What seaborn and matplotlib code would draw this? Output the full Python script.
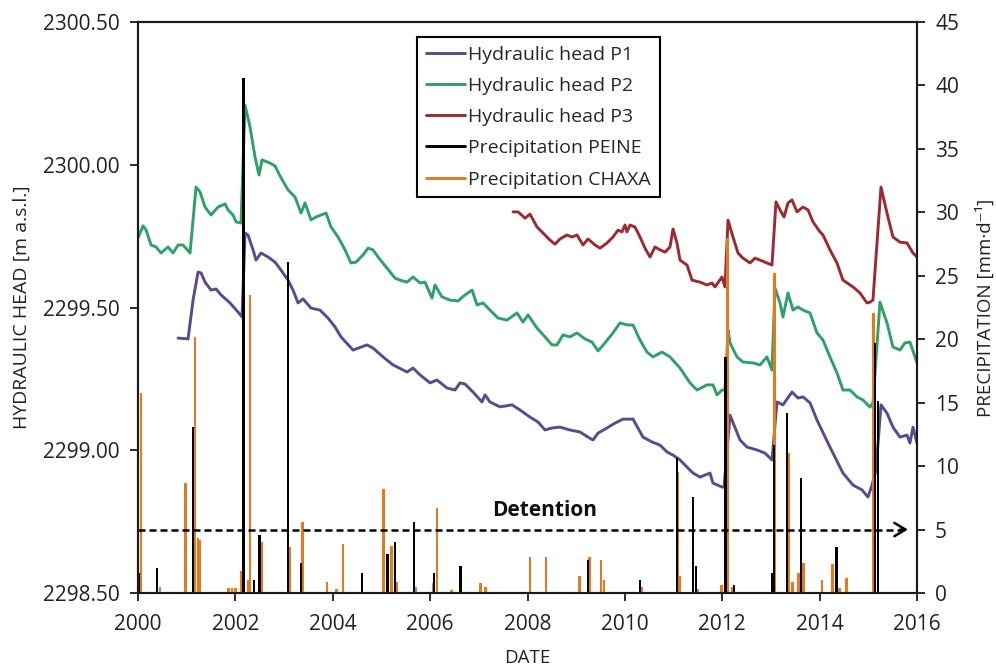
import numpy as np
import pandas as pd
import matplotlib
matplotlib.use("Agg")
import matplotlib.pyplot as plt
import seaborn as sns
from matplotlib.lines import Line2D
from matplotlib.ticker import FormatStrFormatter

# ---------------- data ----------------
p1_year = [2000.822, 2001.027, 2001.130, 2001.232, 2001.294, 2001.376, 2001.499, 2001.602, 2001.705,
           2001.890, 2002.054, 2002.136, 2002.198, 2002.259, 2002.362, 2002.423, 2002.526, 2002.670,
           2002.814, 2002.937, 2003.081, 2003.183, 2003.286, 2003.389, 2003.553, 2003.738, 2003.902,
           2004.046, 2004.169, 2004.416, 2004.703, 2004.826, 2005.032, 2005.237, 2005.525, 2005.648,
           2005.792, 2005.997, 2006.141, 2006.346, 2006.511, 2006.613, 2006.716, 2006.880, 2007.065,
           2007.127, 2007.229, 2007.435, 2007.681, 2007.846, 2008.051, 2008.215, 2008.359, 2008.503,
           2008.667, 2008.872, 2009.078, 2009.242, 2009.345, 2009.447, 2009.632, 2009.797, 2009.961,
           2010.166, 2010.372, 2010.557, 2010.721, 2010.865, 2010.988, 2011.132, 2011.275, 2011.399,
           2011.542, 2011.645, 2011.748, 2011.809, 2011.994, 2012.036, 2012.159, 2012.364, 2012.508,
           2012.713, 2012.877, 2013.021, 2013.124, 2013.247, 2013.432, 2013.555, 2013.658, 2013.802,
           2013.945, 2014.212, 2014.479, 2014.685, 2014.870, 2014.993, 2015.075, 2015.157, 2015.260,
           2015.383, 2015.506, 2015.650, 2015.794, 2015.855, 2015.917, 2016.000]
p1_head = [2299.393, 2299.390, 2299.526, 2299.624, 2299.621, 2299.589, 2299.561, 2299.565, 2299.544,
           2299.516, 2299.484, 2299.467, 2299.761, 2299.754, 2299.702, 2299.666, 2299.691, 2299.677,
           2299.659, 2299.631, 2299.596, 2299.561, 2299.516, 2299.530, 2299.498, 2299.491, 2299.463,
           2299.432, 2299.397, 2299.351, 2299.369, 2299.358, 2299.327, 2299.299, 2299.274, 2299.288,
           2299.264, 2299.236, 2299.246, 2299.218, 2299.211, 2299.236, 2299.232, 2299.204, 2299.169,
           2299.194, 2299.169, 2299.152, 2299.159, 2299.141, 2299.116, 2299.099, 2299.071, 2299.078,
           2299.081, 2299.071, 2299.064, 2299.046, 2299.036, 2299.060, 2299.078, 2299.095, 2299.109,
           2299.109, 2299.046, 2299.029, 2299.018, 2298.994, 2298.983, 2298.966, 2298.941, 2298.920,
           2298.906, 2298.913, 2298.920, 2298.885, 2298.871, 2298.871, 2299.123, 2299.036, 2299.011,
           2299.001, 2298.990, 2298.966, 2299.169, 2299.159, 2299.204, 2299.183, 2299.187, 2299.166,
           2299.106, 2299.011, 2298.920, 2298.878, 2298.861, 2298.836, 2298.878, 2298.931, 2299.159,
           2299.130, 2299.081, 2299.046, 2299.053, 2299.025, 2299.081, 2299.025]

p2_year = [2000.000, 2000.103, 2000.164, 2000.267, 2000.370, 2000.472, 2000.616, 2000.719, 2000.822,
           2000.924, 2001.068, 2001.191, 2001.273, 2001.376, 2001.499, 2001.643, 2001.787, 2001.848,
           2001.951, 2002.013, 2002.115, 2002.198, 2002.300, 2002.403, 2002.485, 2002.547, 2002.711,
           2002.814, 2002.937, 2003.081, 2003.224, 2003.348, 2003.430, 2003.553, 2003.656, 2003.861,
           2003.964, 2004.108, 2004.251, 2004.374, 2004.477, 2004.621, 2004.724, 2004.826, 2004.929,
           2005.093, 2005.278, 2005.381, 2005.525, 2005.648, 2005.792, 2005.894, 2006.038, 2006.100,
           2006.243, 2006.408, 2006.572, 2006.716, 2006.860, 2006.962, 2007.086, 2007.229, 2007.394,
           2007.579, 2007.784, 2007.907, 2008.010, 2008.195, 2008.359, 2008.503, 2008.605, 2008.729,
           2008.872, 2009.016, 2009.180, 2009.324, 2009.447, 2009.591, 2009.755, 2009.899, 2010.043,
           2010.166, 2010.310, 2010.454, 2010.577, 2010.762, 2010.926, 2011.132, 2011.337, 2011.481,
           2011.686, 2011.809, 2011.892, 2011.994, 2012.056, 2012.120, 2012.159, 2012.302, 2012.425,
           2012.631, 2012.775, 2012.918, 2013.021, 2013.083, 2013.186, 2013.247, 2013.350, 2013.452,
           2013.555, 2013.658, 2013.802, 2013.945, 2014.069, 2014.212, 2014.356, 2014.479, 2014.623,
           2014.767, 2014.890, 2015.034, 2015.095, 2015.239, 2015.383, 2015.506, 2015.650, 2015.753,
           2015.855, 2015.958, 2016.000]
p2_head = [2299.744, 2299.786, 2299.772, 2299.719, 2299.712, 2299.691, 2299.712, 2299.691, 2299.719,
           2299.719, 2299.691, 2299.922, 2299.905, 2299.852, 2299.824, 2299.852, 2299.863, 2299.842,
           2299.824, 2299.800, 2299.796, 2300.209, 2300.132, 2300.027, 2299.964, 2300.017, 2300.006,
           2299.996, 2299.954, 2299.912, 2299.887, 2299.831, 2299.866, 2299.807, 2299.817, 2299.831,
           2299.782, 2299.747, 2299.702, 2299.656, 2299.659, 2299.684, 2299.708, 2299.702, 2299.677,
           2299.642, 2299.603, 2299.596, 2299.589, 2299.607, 2299.586, 2299.589, 2299.533, 2299.579,
           2299.537, 2299.526, 2299.523, 2299.544, 2299.561, 2299.509, 2299.516, 2299.491, 2299.463,
           2299.456, 2299.481, 2299.449, 2299.474, 2299.428, 2299.397, 2299.369, 2299.369, 2299.404,
           2299.397, 2299.411, 2299.390, 2299.379, 2299.348, 2299.376, 2299.411, 2299.446, 2299.439,
           2299.439, 2299.386, 2299.344, 2299.327, 2299.344, 2299.327, 2299.288, 2299.236, 2299.211,
           2299.229, 2299.229, 2299.194, 2299.211, 2299.211, 2299.421, 2299.376, 2299.327, 2299.309,
           2299.306, 2299.299, 2299.327, 2299.281, 2299.568, 2299.516, 2299.467, 2299.551, 2299.491,
           2299.502, 2299.491, 2299.481, 2299.411, 2299.386, 2299.327, 2299.271, 2299.211, 2299.211,
           2299.187, 2299.176, 2299.151, 2299.166, 2299.519, 2299.446, 2299.362, 2299.351, 2299.376,
           2299.379, 2299.327, 2299.306]

p3_year = [2007.702, 2007.805, 2007.948, 2008.051, 2008.195, 2008.318, 2008.462, 2008.564, 2008.667,
           2008.811, 2008.914, 2009.016, 2009.139, 2009.242, 2009.386, 2009.489, 2009.632, 2009.755,
           2009.858, 2009.940, 2010.002, 2010.043, 2010.105, 2010.207, 2010.310, 2010.413, 2010.516,
           2010.618, 2010.721, 2010.824, 2010.926, 2010.988, 2011.070, 2011.132, 2011.275, 2011.378,
           2011.542, 2011.686, 2011.789, 2011.850, 2011.994, 2012.056, 2012.118, 2012.220, 2012.323,
           2012.425, 2012.569, 2012.672, 2012.775, 2012.918, 2013.021, 2013.103, 2013.186, 2013.268,
           2013.350, 2013.432, 2013.535, 2013.658, 2013.761, 2013.863, 2014.007, 2014.069, 2014.212,
           2014.356, 2014.479, 2014.685, 2014.829, 2014.972, 2015.034, 2015.095, 2015.260, 2015.383,
           2015.506, 2015.650, 2015.794, 2015.917, 2016.000]
p3_head = [2299.835, 2299.835, 2299.813, 2299.827, 2299.782, 2299.761, 2299.736, 2299.722, 2299.740,
           2299.754, 2299.747, 2299.754, 2299.719, 2299.740, 2299.719, 2299.708, 2299.726, 2299.747,
           2299.771, 2299.765, 2299.789, 2299.765, 2299.789, 2299.782, 2299.747, 2299.708, 2299.677,
           2299.712, 2299.702, 2299.694, 2299.712, 2299.775, 2299.726, 2299.666, 2299.649, 2299.596,
           2299.589, 2299.579, 2299.586, 2299.572, 2299.607, 2299.572, 2299.806, 2299.747, 2299.691,
           2299.673, 2299.656, 2299.673, 2299.666, 2299.656, 2299.649, 2299.870, 2299.842, 2299.817,
           2299.866, 2299.877, 2299.835, 2299.852, 2299.842, 2299.800, 2299.765, 2299.754, 2299.702,
           2299.656, 2299.596, 2299.572, 2299.551, 2299.516, 2299.519, 2299.526, 2299.922, 2299.831,
           2299.747, 2299.729, 2299.726, 2299.691, 2299.677]

peine_year = [2000.02, 2000.39, 2001.13, 2002.16, 2002.38, 2002.49, 2003.08, 2003.35, 2004.60,
              2005.13, 2005.28, 2005.67, 2006.08, 2006.63, 2009.24, 2010.31, 2011.07, 2011.40,
              2011.46, 2012.06, 2012.24, 2013.02, 2013.06, 2013.33, 2013.62, 2014.34, 2015.14, 2015.20]
peine_mm = [1.6, 2.0, 13.1, 40.6, 1.0, 4.6, 26.1, 2.4, 1.6,
            3.1, 4.0, 5.6, 1.6, 2.1, 2.6, 1.0, 10.6, 7.6,
            2.1, 18.6, 0.6, 1.6, 11.7, 14.2, 9.1, 3.6, 19.7, 15.1]

chaxa_year = [2000.06, 2000.45, 2000.97, 2001.17, 2001.23, 2001.27, 2001.85, 2001.93, 2002.01,
              2002.12, 2002.26, 2002.30, 2002.53, 2003.12, 2003.37, 2003.88, 2004.07, 2004.21,
              2005.05, 2005.20, 2005.32, 2005.71, 2006.06, 2006.14, 2006.43, 2007.04, 2007.13,
              2008.05, 2008.38, 2009.06, 2009.28, 2009.51, 2009.57, 2010.35, 2011.09, 2011.13,
              2011.50, 2011.99, 2012.10, 2012.20, 2013.08, 2013.37, 2013.45, 2013.56, 2013.66,
              2014.05, 2014.27, 2014.40, 2014.56, 2015.10, 2015.20]
chaxa_mm = [15.8, 0.5, 8.7, 20.2, 4.3, 4.2, 0.4, 0.4, 0.4,
            1.7, 1.0, 23.5, 4.0, 3.6, 5.6, 0.9, 0.3, 3.9,
            8.2, 3.7, 0.9, 0.5, 0.8, 6.7, 0.2, 0.8, 0.5,
            2.8, 2.8, 1.3, 2.8, 2.6, 1.0, 0.5, 9.5, 1.3,
            0.3, 0.6, 28.0, 0.5, 25.2, 11.0, 0.9, 1.6, 2.4,
            1.0, 2.3, 0.4, 1.2, 22.1, 12.1]

detention_mm = 5
series_names = ["Hydraulic head P1", "Hydraulic head P2", "Hydraulic head P3"]
precip_names = ["Precipitation PEINE", "Precipitation CHAXA"]
year_ticks = list(range(2000, 2017, 2))
head_ticks = [2298.5, 2299.0, 2299.5, 2300.0, 2300.5]
precip_ticks = list(range(0, 46, 5))

# ---------------- style ----------------
C_P1, C_P2, C_P3 = "#5B4A8C", "#2FA066", "#9B2B30"
C_PEINE, C_CHAXA = "#000000", "#E8781E"

sns.set_theme(style="ticks")
plt.rcParams['font.family'] = ['Open Sans', 'DejaVu Sans']
plt.rcParams['axes.edgecolor'] = '#1a1a1a'

heads = pd.concat([
    pd.DataFrame({"year": p1_year, "head": p1_head, "series": series_names[0]}),
    pd.DataFrame({"year": p2_year, "head": p2_head, "series": series_names[1]}),
    pd.DataFrame({"year": p3_year, "head": p3_head, "series": series_names[2]}),
], ignore_index=True)

fig, ax = plt.subplots(figsize=(9.96, 6.68), dpi=100)
fig.subplots_adjust(left=0.1386, right=0.9207, bottom=0.1123, top=0.967)

sns.lineplot(data=heads, x="year", y="head", hue="series",
             palette=dict(zip(series_names, [C_P1, C_P2, C_P3])),
             estimator=None, sort=False, linewidth=2.1, legend=False, ax=ax)

ax2 = ax.twinx()
ax2.bar(chaxa_year, chaxa_mm, width=0.058, color=C_CHAXA, linewidth=0, align="center")
ax2.bar(peine_year, peine_mm, width=0.055, color=C_PEINE, linewidth=0, align="center")

ax.set_xlim(2000, 2016)
ax.set_ylim(2298.5, 2300.5)
ax2.set_ylim(0, 45)
ax.set_xticks(year_ticks)
ax.set_yticks(head_ticks)
ax.yaxis.set_major_formatter(FormatStrFormatter("%.2f"))
ax2.set_yticks(precip_ticks)

for a in (ax, ax2):
    for s in a.spines.values():
        s.set_linewidth(1.5)
        s.set_visible(True)
    a.tick_params(direction="out", length=6, width=1.3, labelsize=15, pad=7, colors="#1a1a1a")
    a.tick_params(labelcolor="#222222")
ax.tick_params(axis="x", pad=9)

ax.set_xlabel("DATE", fontsize=13.5, labelpad=10, color="#222222")
ax.set_ylabel("HYDRAULIC HEAD [m a.s.l.]", fontsize=14, labelpad=9, color="#222222")
ax2.set_ylabel("PRECIPITATION [mm·d⁻¹]", fontsize=13.5, labelpad=12, color="#222222")

# detention line with arrow
ax2.plot([2000, 2015.78], [detention_mm, detention_mm], color="black", lw=1.8,
         linestyle=(0, (2.8, 1.6)))
ax2.annotate("", xy=(2015.87, detention_mm), xytext=(2015.6, detention_mm),
             arrowprops=dict(arrowstyle="->,head_length=0.5,head_width=0.3",
                             color="black", lw=1.8, mutation_scale=16))
ax2.text(2008.36, 6.5, "Detention", fontsize=15, fontweight="bold",
         ha="center", va="center", color="#111111")

handles = [Line2D([], [], color=c, lw=2.1) for c in [C_P1, C_P2, C_P3, C_PEINE, C_CHAXA]]
leg = ax2.legend(handles, series_names + precip_names, loc="upper left",
                 bbox_to_anchor=(0.358, 0.974), borderaxespad=0, fontsize=14,
                 frameon=True, fancybox=False, framealpha=1, edgecolor="black",
                 handlelength=2.0, handletextpad=0.2, labelspacing=0.68,
                 borderpad=0.45)
leg.get_frame().set_linewidth(1.5)

fig.savefig("out.png", dpi=100)
